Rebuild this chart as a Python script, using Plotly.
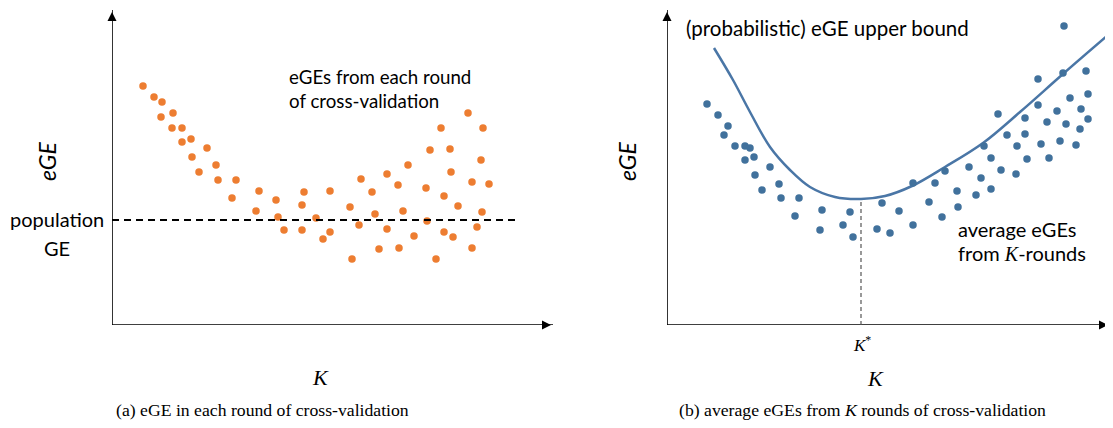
import plotly.graph_objects as go

# page body adds an 8px margin, so the figure is shrunk and shifted accordingly
OFF = 8
W, H = 1113 - OFF, 428 - OFF

# ---- Panel (a): eGE from each round of cross-validation ----
left_k = [31, 42, 50, 49, 61, 60, 70, 70, 79, 80, 95, 87, 104, 106, 124, 120, 147, 144, 164, 166,
          172, 192, 190, 190, 204, 211, 218, 218, 238, 240, 247, 249, 260, 263, 267, 275, 275, 286,
          287, 291, 296, 302, 314, 315, 318, 324, 329, 332, 332, 338, 339, 341, 346, 356, 360, 360,
          365, 369, 370, 371, 377]
left_ege = [239, 228, 223, 208, 212, 197, 197, 183, 186, 168, 177, 153, 160, 145, 145, 127, 134, 114,
            125, 108, 95, 133, 120, 95, 107, 86, 93, 134, 118, 66, 100, 146, 133, 111, 76, 96, 151,
            140, 77, 114, 160, 89, 137, 104, 175, 66, 197, 129, 93, 176, 153, 88, 119, 212, 143, 77,
            98, 165, 113, 197, 141]
population_ge = 105
pop_line_k = [0, 408]

# ---- Panel (b): average eGEs from K rounds ----
right_k = [40, 51, 61, 57, 68, 78, 83, 78, 87, 103, 88, 112, 95, 114, 132, 128, 155, 153, 183, 176,
           186, 210, 215, 223, 232, 246, 246, 262, 268, 275, 278, 290, 291, 302, 309, 314, 317, 324,
           324, 331, 334, 340, 349, 350, 358, 358, 360, 371, 371, 374, 380, 382, 390, 393, 396, 397,
           399, 403, 409, 413, 414, 419, 421, 421]
right_ege = [221, 210, 199, 190, 179, 179, 177, 165, 168, 158, 150, 141, 135, 127, 127, 109, 115, 95,
             113, 100, 88, 96, 122, 92, 114, 100, 142, 123, 142, 108, 154, 134, 118, 158, 130, 147,
             179, 167, 136, 211, 155, 190, 151, 179, 207, 191, 166, 220, 246, 181, 203, 167, 214,
             184, 252, 299, 201, 227, 180, 196, 216, 254, 206, 231]
bound_k = [47, 66, 83, 103, 123, 143, 168, 194, 218, 245, 278, 316, 353, 396, 440]
bound_ege = [277, 245, 213, 178, 155, 138, 128, 126, 129, 139, 158, 182, 213, 251, 289]
k_star = 194
k_star_ege = 126

ORANGE = "#ED7D31"
BLUE = "#41719C"
CURVE = "#4A76A6"

# axes placement in page pixels
LX0, LX1 = 112, 555
RX0, RX1 = 667, 1113
Y_BOT, Y_TOP = 325, 8


def px(x):
    return (x - OFF) / W


def py(y):
    return 1 - (y - OFF) / H


fig = go.Figure()


def axis_arrows(xa, ya, xmax, ymax):
    # axis lines
    fig.add_trace(go.Scatter(x=[0, xmax - 2, None, 0, 0], y=[0, 0, None, 0, ymax - 2], mode="lines",
                             line=dict(color="black", width=1.6), xaxis=xa, yaxis=ya,
                             showlegend=False, hoverinfo="skip", cliponaxis=False))
    # arrow heads
    fig.add_trace(go.Scatter(x=[xmax - 4, 0], y=[0, ymax - 4], mode="markers",
                             marker=dict(symbol=["arrow-right", "arrow-up"], size=9, color="black",
                                         line=dict(width=0)),
                             xaxis=xa, yaxis=ya, showlegend=False, hoverinfo="skip",
                             cliponaxis=False))


axis_arrows("x", "y", LX1 - LX0, Y_BOT - Y_TOP)
axis_arrows("x2", "y2", RX1 - RX0 - 1, Y_BOT - Y_TOP)

fig.add_trace(go.Scatter(x=left_k, y=left_ege, mode="markers",
                         marker=dict(color=ORANGE, size=7.5), xaxis="x", yaxis="y",
                         showlegend=False, hoverinfo="skip"))
fig.add_trace(go.Scatter(x=pop_line_k, y=[population_ge, population_ge], mode="lines",
                         line=dict(color="black", width=2, dash="7px,5px"), xaxis="x", yaxis="y",
                         showlegend=False, hoverinfo="skip"))

fig.add_trace(go.Scatter(x=bound_k, y=bound_ege, mode="lines", line_shape="spline",
                         line=dict(color=CURVE, width=2.5), xaxis="x2", yaxis="y2",
                         showlegend=False, hoverinfo="skip"))
fig.add_trace(go.Scatter(x=right_k, y=right_ege, mode="markers",
                         marker=dict(color=BLUE, size=7.5), xaxis="x2", yaxis="y2",
                         showlegend=False, hoverinfo="skip"))
fig.add_trace(go.Scatter(x=[k_star, k_star], y=[0, k_star_ege], mode="lines",
                         line=dict(color="#555555", width=1.2, dash="4px,3px"), xaxis="x2", yaxis="y2",
                         showlegend=False, hoverinfo="skip"))

ax_common = dict(showgrid=False, zeroline=False, showticklabels=False, ticks="", showline=False,
                 fixedrange=True)
ydom = [py(Y_BOT), min(1, py(Y_TOP))]
fig.update_layout(
    width=W, height=H, margin=dict(l=0, r=0, t=0, b=0),
    paper_bgcolor="white", plot_bgcolor="white",
    xaxis=dict(domain=[px(LX0), px(LX1)], range=[0, LX1 - LX0], anchor="y", **ax_common),
    yaxis=dict(domain=ydom, range=[0, Y_BOT - Y_TOP], anchor="x", **ax_common),
    xaxis2=dict(domain=[px(RX0), min(1, px(RX1))], range=[0, RX1 - RX0], anchor="y2", **ax_common),
    yaxis2=dict(domain=ydom, range=[0, Y_BOT - Y_TOP], anchor="x2", **ax_common),
)

SANS = "Lato"
SERIF = "Liberation Serif"


def txt(x, y, text, size, family=SANS, xanchor="center", angle=0):
    fig.add_annotation(x=px(x), y=py(y), xref="paper", yref="paper", text=text, showarrow=False,
                       font=dict(family=family, size=size, color="black"), xanchor=xanchor,
                       yanchor="middle", textangle=angle)


txt(287, 77, "eGEs from each round", 18.7, xanchor="left")
txt(287, 101, "of cross-validation", 18.7, xanchor="left")
txt(57, 219, "population", 20)
txt(57, 248, "GE", 20)
txt(47, 162, "<i>eGE</i>", 23, angle=-90)
txt(320, 377, "<i>K</i>", 22, family=SERIF)
txt(262, 410, "(a) eGE in each round of cross-validation", 17.7, family=SERIF)

txt(684, 28, "(probabilistic) eGE upper bound", 20.5, xanchor="left")
txt(627, 162, "<i>eGE</i>", 23, angle=-90)
txt(956, 229, "average eGEs", 20, xanchor="left")
txt(956, 253, "from <span style='font-family:Liberation Serif'><i>K</i></span>-rounds", 20,
    xanchor="left")
txt(862, 344, "<i>K</i><sup>*</sup>", 17, family=SERIF)
txt(875, 378, "<i>K</i>", 22, family=SERIF)
txt(862, 410, "(b) average eGEs from <i>K</i> rounds of cross-validation", 17.7, family=SERIF)

fig.write_html("out.html")
